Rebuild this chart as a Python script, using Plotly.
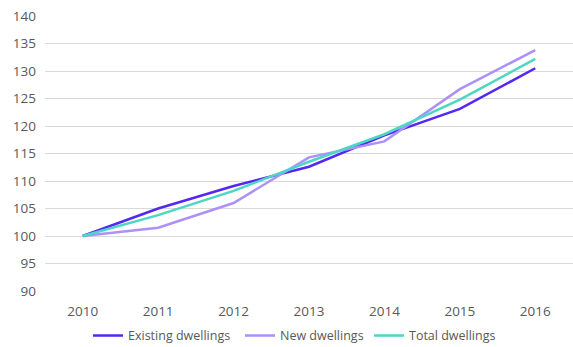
import plotly.graph_objects as go

years = ["2010", "2011", "2012", "2013", "2014", "2015", "2016"]
existing = [100, 105.0, 109.1, 112.6, 118.3, 123.1, 130.5]
new = [100, 101.5, 106.0, 114.3, 117.2, 126.7, 133.8]
total = [100, 103.8, 108.2, 113.5, 118.5, 124.8, 132.2]
y_ticks = [90, 95, 100, 105, 110, 115, 120, 125, 130, 135, 140]

series = [("Existing dwellings", existing, "#5427F5", "legend", 88),
          ("New dwellings", new, "#AC91FA", "legend2", 240),
          ("Total dwellings", total, "#4CD6C4", "legend3", 369)]

fig = go.Figure()
legends = {}
for name, vals, col, lg, px in series:
    fig.add_trace(go.Scatter(x=years, y=vals, mode="lines", name=name, legend=lg,
                             line=dict(color=col, width=2.5)))
    legends[lg] = dict(orientation="h", x=px / 573, xanchor="left", xref="container",
                       y=0.032, yanchor="middle", yref="container",
                       font=dict(size=12.5, color="#595959"), itemwidth=30,
                       bgcolor="rgba(0,0,0,0)")

fig.update_layout(
    width=573, height=347,
    margin=dict(l=45, r=0, t=16, b=56, autoexpand=False),
    plot_bgcolor="white", paper_bgcolor="white",
    font=dict(family="Open Sans", size=13, color="#595959"),
    showlegend=True,
    xaxis=dict(type="category", range=[-0.5, 6.5], showgrid=False, zeroline=False,
               showline=False, ticks="", ticklabelstandoff=10, tickfont=dict(size=13.5)),
    yaxis=dict(range=[90, 140], tickvals=y_ticks, showgrid=True, gridcolor="#D9D9D9",
               gridwidth=1, zeroline=False, showline=False, ticks="", ticklabelstandoff=8,
               tickfont=dict(size=13.5)),
    **legends,
)
fig.write_html("out.html")
